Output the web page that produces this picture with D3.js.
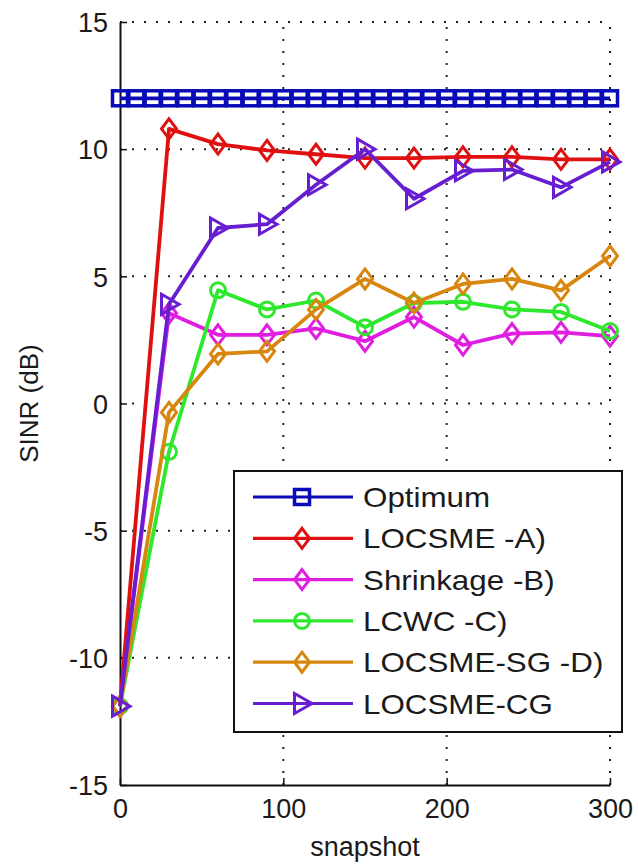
<!DOCTYPE html>
<html>
<head>
<meta charset="utf-8">
<script src="https://cdn.jsdelivr.net/npm/d3@7"></script>
<style>
  body { margin: 0; background: #fff; }
  svg text { font-family: "Liberation Sans", Arial, sans-serif; fill: #1a1a1a; }
</style>
</head>
<body>
<div id="chart"></div>
<script>
// snapshot positions of the markers
const snapshots = [0, 30, 60, 90, 120, 150, 180, 210, 240, 270, 300];
const optimumSnapshots = [0, 10, 20, 30, 40, 50, 60, 70, 80, 90, 100, 110, 120, 130, 140, 150,
  160, 170, 180, 190, 200, 210, 220, 230, 240, 250, 260, 270, 280, 290, 300];
const optimumSinr = [12, 12, 12, 12, 12, 12, 12, 12, 12, 12, 12, 12, 12, 12, 12, 12,
  12, 12, 12, 12, 12, 12, 12, 12, 12, 12, 12, 12, 12, 12, 12];

// SINR values (dB)
const locsmeA = [-11.9, 10.8, 10.2, 9.95, 9.8, 9.65, 9.65, 9.7, 9.7, 9.6, 9.6];
const shrinkageB = [-11.9, 3.55, 2.7, 2.7, 2.95, 2.45, 3.4, 2.3, 2.75, 2.8, 2.65];
const lcwcC = [-11.9, -1.9, 4.45, 3.7, 4.05, 3.0, 3.95, 4.0, 3.7, 3.6, 2.85];
const locsmeSgD = [-11.9, -0.35, 1.95, 2.05, 3.7, 4.9, 3.95, 4.7, 4.9, 4.45, 5.8];
const locsmeCg = [-11.9, 3.9, 6.9, 7.05, 8.6, 10.0, 8.05, 9.15, 9.2, 8.5, 9.5];

const xTicks = [0, 100, 200, 300];
const yTicks = [-15, -10, -5, 0, 5, 10, 15];

const series = [
  { name: "Optimum", x: optimumSnapshots, y: optimumSinr, color: "#0a0ab8", marker: "square" },
  { name: "LOCSME -A)", x: snapshots, y: locsmeA, color: "#e01010", marker: "diamond" },
  { name: "Shrinkage -B)", x: snapshots, y: shrinkageB, color: "#e01ee0", marker: "diamond" },
  { name: "LCWC -C)", x: snapshots, y: lcwcC, color: "#2ee82e", marker: "circle" },
  { name: "LOCSME-SG -D)", x: snapshots, y: locsmeSgD, color: "#d8860e", marker: "diamond" },
  { name: "LOCSME-CG", x: snapshots, y: locsmeCg, color: "#661ed0", marker: "triangle" }
];

const W = 638, H = 865;
const plot = { left: 120, right: 610, top: 22, bottom: 785 };

const svg = d3.select("#chart").append("svg")
  .attr("width", W).attr("height", H);

const x = d3.scaleLinear().domain([0, 300]).range([plot.left, plot.right]);
const y = d3.scaleLinear().domain([-15, 15]).range([plot.bottom, plot.top]);

// dotted grid
const grid = svg.append("g")
  .attr("stroke", "#222").attr("stroke-width", 2).attr("stroke-dasharray", "2,10");
grid.selectAll(".gx").data(xTicks.filter(d => d > 0)).enter().append("line")
  .attr("x1", d => x(d)).attr("x2", d => x(d)).attr("y1", plot.bottom).attr("y2", plot.top);
grid.selectAll(".gy").data(yTicks.filter(d => d > -15)).enter().append("line")
  .attr("x1", plot.left).attr("x2", plot.right).attr("y1", d => y(d)).attr("y2", d => y(d));

// axes (MATLAB-style inward ticks, only left and bottom)
const fmt = d => String(d);
const xAxis = svg.append("g").attr("transform", `translate(0,${plot.bottom})`)
  .call(d3.axisBottom(x).tickValues(xTicks).tickFormat(fmt).tickSize(-7).tickPadding(14).tickSizeOuter(0));
const yAxis = svg.append("g").attr("transform", `translate(${plot.left},0)`)
  .call(d3.axisLeft(y).tickValues(yTicks).tickFormat(fmt).tickSize(-7).tickPadding(12).tickSizeOuter(0));
[xAxis, yAxis].forEach(a => {
  a.select(".domain").attr("stroke", "#111").attr("stroke-width", 2);
  a.selectAll(".tick line").attr("stroke", "#111").attr("stroke-width", 1.5);
  a.selectAll("text").attr("font-size", 27).attr("fill", "#1a1a1a");
});
yAxis.selectAll("text").attr("dy", "0.36em");

svg.append("text").attr("x", (plot.left + plot.right) / 2).attr("y", 856)
  .attr("text-anchor", "middle").attr("font-size", 27).text("snapshot");
svg.append("text").attr("transform", `translate(38,${(plot.top + plot.bottom) / 2}) rotate(-90)`)
  .attr("text-anchor", "middle").attr("font-size", 26).text("SINR (dB)");

// marker shapes
function drawMarker(g, type, cx, cy, color) {
  if (type === "square") {
    g.append("rect").attr("x", cx - 7.5).attr("y", cy - 7.5).attr("width", 15).attr("height", 15)
      .attr("fill", "none").attr("stroke", color).attr("stroke-width", 3.5);
  } else if (type === "diamond") {
    g.append("path").attr("d", `M${cx},${cy - 10}L${cx + 7.5},${cy}L${cx},${cy + 10}L${cx - 7.5},${cy}Z`)
      .attr("fill", "none").attr("stroke", color).attr("stroke-width", 3);
  } else if (type === "circle") {
    g.append("circle").attr("cx", cx).attr("cy", cy).attr("r", 7.5)
      .attr("fill", "none").attr("stroke", color).attr("stroke-width", 3);
  } else if (type === "triangle") {
    g.append("path").attr("d", `M${cx - 7.5},${cy - 10}L${cx + 10},${cy}L${cx - 7.5},${cy + 10}Z`)
      .attr("fill", "none").attr("stroke", color).attr("stroke-width", 3);
  }
}

const line = d3.line().x(d => x(d[0])).y(d => y(d[1]));

series.forEach(s => {
  const pts = s.x.map((v, i) => [v, s.y[i]]);
  const g = svg.append("g");
  g.append("path").datum(pts).attr("d", line)
    .attr("fill", "none").attr("stroke", s.color).attr("stroke-width", 3.8)
    .attr("stroke-linejoin", "round");
  pts.forEach(p => drawMarker(g, s.marker, x(p[0]), y(p[1]), s.color));
});

// legend
const lg = svg.append("g");
lg.append("rect").attr("x", 234).attr("y", 471).attr("width", 388).attr("height", 261)
  .attr("fill", "#fff").attr("stroke", "#111").attr("stroke-width", 2);
series.forEach((s, i) => {
  const ly = 497 + i * 41.3;
  lg.append("line").attr("x1", 253).attr("x2", 353).attr("y1", ly).attr("y2", ly)
    .attr("stroke", s.color).attr("stroke-width", 3.2);
  drawMarker(lg, s.marker, 302, ly, s.color);
  lg.append("text").attr("transform", `translate(363,${ly}) scale(1.12,1)`)
    .attr("dy", "0.36em").attr("font-size", 28).text(s.name);
});
</script>
</body>
</html>
